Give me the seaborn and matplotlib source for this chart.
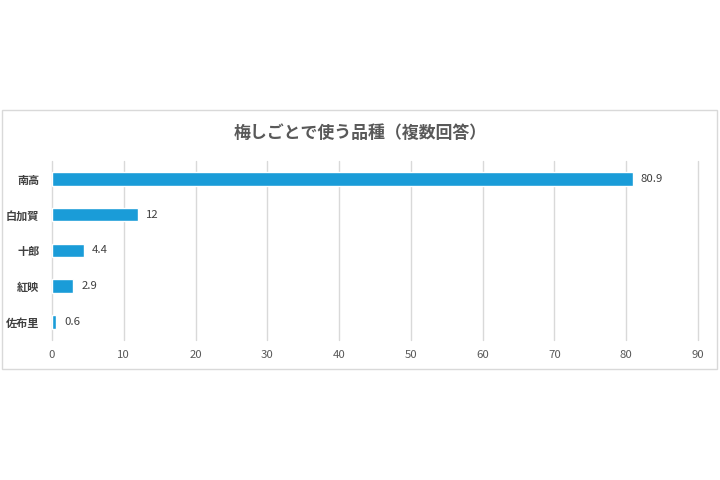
import matplotlib
matplotlib.use("Agg")
import matplotlib.pyplot as plt
import seaborn as sns
import pandas as pd
from matplotlib.patches import Rectangle

# データ
varieties = ["南高", "白加賀", "十郎", "紅映", "佐布里"]
shares = [80.9, 12, 4.4, 2.9, 0.6]
value_labels = ["80.9", "12", "4.4", "2.9", "0.6"]
x_ticks = [0, 10, 20, 30, 40, 50, 60, 70, 80, 90]

sns.set_style("white")
plt.rcParams["font.family"] = ["Noto Sans CJK JP", "DejaVu Sans"]

df = pd.DataFrame({"品種": varieties, "割合": shares})

fig = plt.figure(figsize=(7.2, 4.8), dpi=100)
ax = fig.add_axes([0.0722, 0.2917, 0.8972, 0.3729])

sns.barplot(data=df, x="割合", y="品種", color="#1a9cd8", width=0.38,
            saturation=1, ax=ax)

ax.set_xlim(0, 90)
ax.set_xticks(x_ticks)
ax.set_xticklabels([str(t) for t in x_ticks], color="#595959", fontsize=8.2)
ax.grid(axis="x", color="#d9d9d9", linewidth=1)
ax.set_axisbelow(True)
for gl in ax.get_xgridlines():
    gl.set_clip_on(False)
for s in ax.spines.values():
    s.set_visible(False)
ax.tick_params(axis="both", length=0)
ax.tick_params(axis="x", pad=7)
ax.tick_params(axis="y", pad=9)
for lbl in ax.get_yticklabels():
    lbl.set_color("#404040")
    lbl.set_fontsize(8)
    lbl.set_fontweight("bold")
ax.set_xlabel("")
ax.set_ylabel("")

for i, (v, t) in enumerate(zip(shares, value_labels)):
    ax.annotate(t, (v, i), xytext=(6, 0), textcoords="offset points",
                va="center", ha="left", fontsize=8.2, color="#404040")

fig.text(0.5, 1 - 133 / 480, "梅しごとで使う品種（複数回答）", ha="center",
         va="center", fontsize=12.2, fontweight="bold", color="#595959")

fig.add_artist(Rectangle((2 / 720, 1 - 369 / 480), 715 / 720, 259 / 480,
                         transform=fig.transFigure, fill=False,
                         edgecolor="#d9d9d9", linewidth=1))

fig.savefig("out.png", dpi=100, facecolor="white")
